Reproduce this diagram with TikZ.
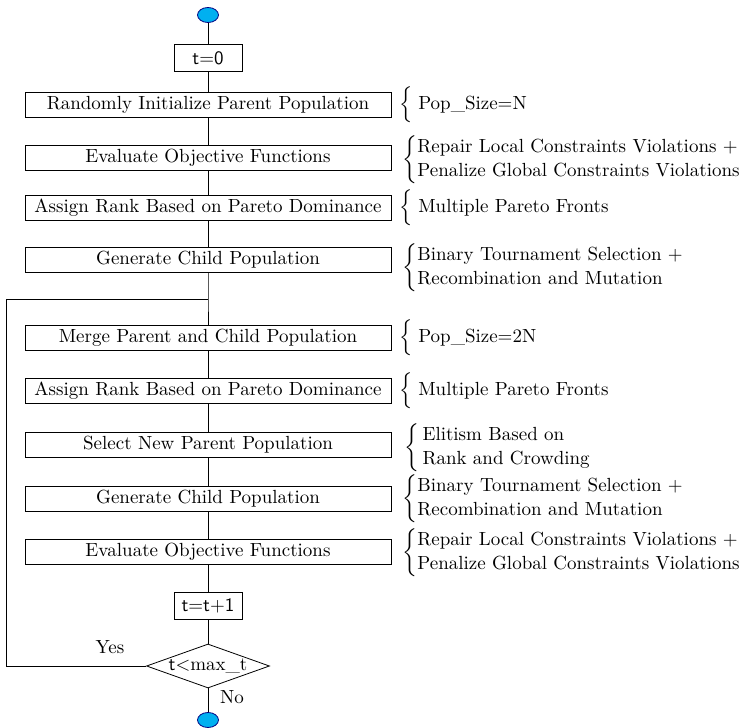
\documentclass[tikz,border=0pt]{standalone}
\usetikzlibrary{shapes.geometric}
\definecolor{termblue}{RGB}{0,176,240}

\begin{document}
\begin{tikzpicture}[x=0.5pt,y=-0.5pt,
        font=\fontsize{9.5}{12}\selectfont,
        stepbox/.style={draw,rectangle,minimum width=183pt,minimum height=12.5pt,inner sep=0pt},
        cntbox/.style={draw,rectangle,minimum width=34pt,minimum height=13.5pt,inner sep=0pt,font=\fontsize{9.5}{12}\selectfont\sffamily},
        term/.style={ellipse,draw=blue!50!black,fill=termblue,minimum width=10.5pt,minimum height=7.5pt,inner sep=0pt},
        test/.style={diamond,draw,aspect=2.8,inner sep=0pt,minimum width=61.5pt,minimum height=22pt},
        note/.style={anchor=west,inner sep=0pt,align=left},
        line/.style={draw,line width=0.5pt}]
    \useasboundingbox (0,0) rectangle (751,728);
    % main column
    \node[term] (start) at (208,15) {};
    \node[cntbox] (t0) at (208,58) {t=0};
    \node[stepbox] (init) at (208,105) {Randomly Initialize Parent Population};
    \node[stepbox] (eval1) at (208,158) {Evaluate Objective Functions};
    \node[stepbox] (rank1) at (208,208) {Assign Rank Based on Pareto Dominance};
    \node[stepbox] (child1) at (208,260) {Generate Child Population};
    \coordinate (join) at (208,299);
    \node[stepbox] (merge) at (208,338) {Merge Parent and Child Population};
    \node[stepbox] (rank2) at (208,391) {Assign Rank Based on Pareto Dominance};
    \node[stepbox] (select) at (208,445) {Select New Parent Population};
    \node[stepbox] (child2) at (208,499) {Generate Child Population};
    \node[stepbox] (eval2) at (208,552) {Evaluate Objective Functions};
    \node[cntbox] (inc) at (208,606) {t=t+1};
    \node[test] (check) at (208,666) {\textsf{t\textless}max\_t};
    \node[term] (stop) at (208,720) {};
    \coordinate (loop) at (6,299);
    \node (yes) at (110,647) {Yes};
    \node (no) at (232,697) {No};
    % notes
    \node[note] (n1) at (399,105) {$\left\{\rule[-7pt]{0pt}{18pt}\right.$\,Pop\_Size=N};
    \node[note] (n2) at (402,160) {$\left\{\begin{tabular}{@{}l@{}}Repair Local Constraints Violations +\\Penalize Global Constraints Violations\end{tabular}\right.$};
    \node[note] (n3) at (399,208) {$\left\{\rule[-7pt]{0pt}{18pt}\right.$\,Multiple Pareto Fronts};
    \node[note] (n4) at (402,268) {$\left\{\begin{tabular}{@{}l@{}}Binary Tournament Selection +\\Recombination and Mutation\end{tabular}\right.$};
    \node[note] (n5) at (399,338) {$\left\{\rule[-7pt]{0pt}{18pt}\right.$\,Pop\_Size=2N};
    \node[note] (n6) at (399,391) {$\left\{\rule[-7pt]{0pt}{18pt}\right.$\,Multiple Pareto Fronts};
    \node[note] (n7) at (404,448) {$\left\{\begin{tabular}{@{\,}l@{}}Elitism Based on\\Rank and Crowding\end{tabular}\right.$};
    \node[note] (n8) at (402,499) {$\left\{\begin{tabular}{@{}l@{}}Binary Tournament Selection +\\Recombination and Mutation\end{tabular}\right.$};
    \node[note] (n9) at (402,553) {$\left\{\begin{tabular}{@{}l@{}}Repair Local Constraints Violations +\\Penalize Global Constraints Violations\end{tabular}\right.$};
    % connectors
    \draw[line] (start) -- (t0) -- (init) -- (eval1) -- (rank1) -- (child1) -- (join) -- (merge)
        -- (rank2) -- (select) -- (child2) -- (eval2) -- (inc) -- (check) -- (stop);
    \draw[line] (check.west) -| (loop) -- (join);
\end{tikzpicture}
\end{document}
